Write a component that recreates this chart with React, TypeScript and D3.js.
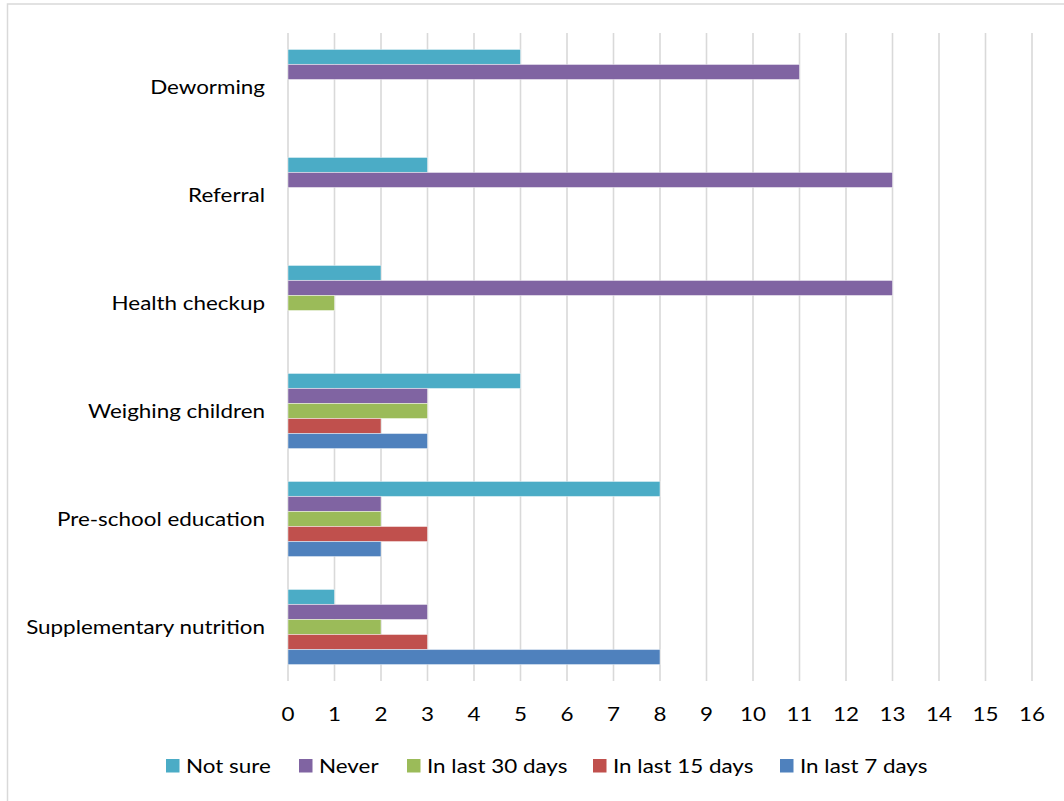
import React from "react";
import * as d3 from "d3";

const categories = [
  "Deworming",
  "Referral",
  "Health checkup",
  "Weighing children",
  "Pre-school education",
  "Supplementary nutrition",
];
const seriesNames = ["Not sure", "Never", "In last 30 days", "In last 15 days", "In last 7 days"];
const seriesColors = ["#4BACC6", "#8064A2", "#9BBB59", "#C0504D", "#4F81BD"];
const notSure = [5, 3, 2, 5, 8, 1];
const never = [11, 13, 13, 3, 2, 3];
const last30 = [0, 0, 1, 3, 2, 2];
const last15 = [0, 0, 0, 2, 3, 3];
const last7 = [0, 0, 0, 3, 2, 8];
const xTicks = d3.range(0, 17);

const FONT = "Lato, 'Liberation Sans', sans-serif";
const FS = 19;
const SX = 1.18;

function T(props: { x: number; y: number; anchor?: string; children: React.ReactNode }) {
  return (
    <text
      transform={`translate(${props.x},${props.y}) scale(${SX},1)`}
      textAnchor={props.anchor || "start"}
      dominantBaseline="central"
      fontFamily={FONT}
      fontSize={FS}
      fill="#000"
    >
      {props.children}
    </text>
  );
}

export default function App() {
  const W = 1064, H = 801;
  const left = 288, right = 1032, top = 33, bottom = 681;
  const x = d3.scaleLinear().domain([0, 16]).range([left, right]);
  const y = d3.scaleBand<string>().domain(categories).range([top, bottom]).paddingInner(0).paddingOuter(0);
  const values = [notSure, never, last30, last15, last7];
  const bw = y.bandwidth();
  const barH = bw / (5 + 2.19);
  const inner = d3.scaleBand<number>().domain(d3.range(5)).range([bw / 2 - 2.5 * barH, bw / 2 + 2.5 * barH]);

  const legendX = [166, 299, 407, 593, 780];

  return (
    <svg width={W} height={H} style={{ position: "absolute", left: 0, top: 0, background: "#fff" }}>
      <rect x={7.5} y={4} width={W + 20} height={H + 20} fill="#fff" stroke="#d9d9d9" strokeWidth={1.5} />
      {xTicks.map((t) => (
        <line key={"g" + t} x1={x(t)} x2={x(t)} y1={top} y2={bottom} stroke="#d9d9d9" strokeWidth={1.6} />
      ))}
      {categories.map((c, ci) => (
        <g key={c} transform={`translate(0,${y(c)})`}>
          {values.map((vals, si) =>
            vals[ci] > 0 ? (
              <rect
                key={si}
                x={x(0)}
                y={inner(si)}
                width={x(vals[ci]) - x(0)}
                height={inner.bandwidth()}
                fill={seriesColors[si]}
                stroke="#ffffff"
                strokeOpacity={0.45}
                strokeWidth={1}
              />
            ) : null
          )}
          <T x={265} y={bw / 2 - 1} anchor="end">{c}</T>
        </g>
      ))}
      {xTicks.map((t) => (
        <T key={"t" + t} x={x(t)} y={713} anchor="middle">{t}</T>
      ))}
      {seriesNames.map((s, i) => (
        <g key={s}>
          <rect x={legendX[i]} y={759} width={13.5} height={13.5} fill={seriesColors[i]} />
          <T x={legendX[i] + 20} y={765}>{s}</T>
        </g>
      ))}
    </svg>
  );
}
